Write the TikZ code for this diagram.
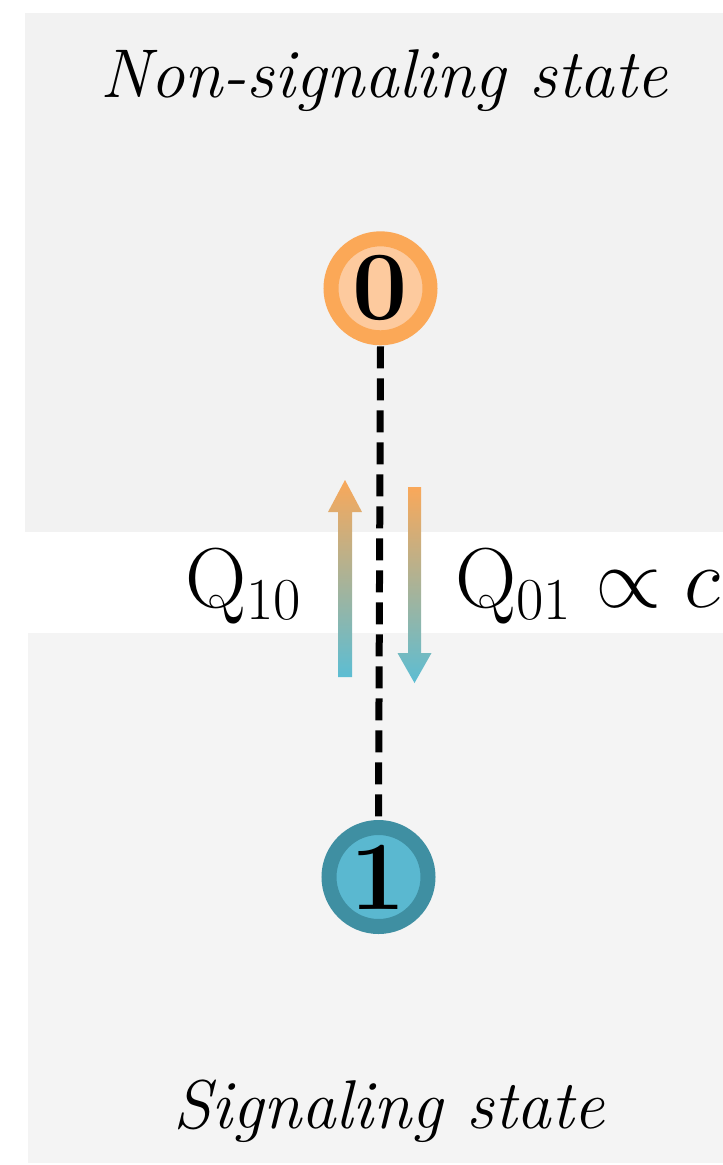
\documentclass[tikz,border=0pt]{standalone}
\usepackage{fix-cm}
\usepackage{fontspec}
\usetikzlibrary{calc}
\definecolor{panelA}{HTML}{F2F2F2}
\definecolor{panelB}{HTML}{F4F4F4}
\definecolor{orOut}{HTML}{FBA857}
\definecolor{orIn}{HTML}{FDCA9E}
\definecolor{blOut}{HTML}{3F8FA2}
\definecolor{blIn}{HTML}{5AB8D0}
\definecolor{gTop}{HTML}{F9A85A}
\definecolor{gBot}{HTML}{5CBDD3}
\tikzset{
  statenode/.style={circle, minimum size=99pt, inner sep=0pt, line width=15pt,
    font=\fontsize{98}{100}\selectfont\bfseries},
  ratelabel/.style={inner sep=0pt, font=\fontsize{85}{90}\selectfont},
  titlelabel/.style={inner sep=0pt, font=\fontsize{69}{80}\selectfont\itshape},
  link/.style={line width=7pt, dash pattern=on 22pt off 10pt},
  gradarrow/.style={top color=gTop, bottom color=gBot, draw=none}
}
\begin{document}
\begin{tikzpicture}[x=1pt,y=-1pt]
\useasboundingbox (0,0) rectangle (723,1165);
\fill[panelA] (25,13) rectangle (723,532);
\fill[panelB] (28,633) rectangle (723,1163);
\node[titlelabel, anchor=base] (top) at (384,97) {Non-signaling state};
\node[titlelabel, anchor=base] (bot) at (389,1128) {Signaling state};
\node[statenode, draw=orOut, fill=orIn] (s0) at (380.5,288.3) {0};
\node[statenode, draw=blOut, fill=blIn] (s1) at (378.5,877) {1};
\draw[link] ([yshift=-1pt]s0.south) -- ([yshift=1pt]s1.north);
% up arrow
\coordinate (ua) at (345,677);
\coordinate (ub) at (345,480);
\shade[gradarrow] ($(ua)+(-7,0)$) -- ($(ua)+(7,0)$) -- ($(ub)+(7,32)$) -- ($(ub)+(17,32)$) -- (ub) -- ($(ub)+(-17,32)$) -- ($(ub)+(-7,32)$) -- cycle;
% down arrow
\coordinate (da) at (414.5,487);
\coordinate (db) at (414.5,683);
\shade[gradarrow] ($(da)+(-6.5,0)$) -- ($(da)+(6.5,0)$) -- ($(db)+(6.5,-30)$) -- ($(db)+(17,-30)$) -- (db) -- ($(db)+(-17,-30)$) -- ($(db)+(-6.5,-30)$) -- cycle;
\node[ratelabel, anchor=base east] (q10) at (302,607) {$\mathrm{Q}_{10}$};
\node[ratelabel, anchor=base west] (q01) at (455,607) {$\mathrm{Q}_{01}\propto c$};
\end{tikzpicture}
\end{document}
